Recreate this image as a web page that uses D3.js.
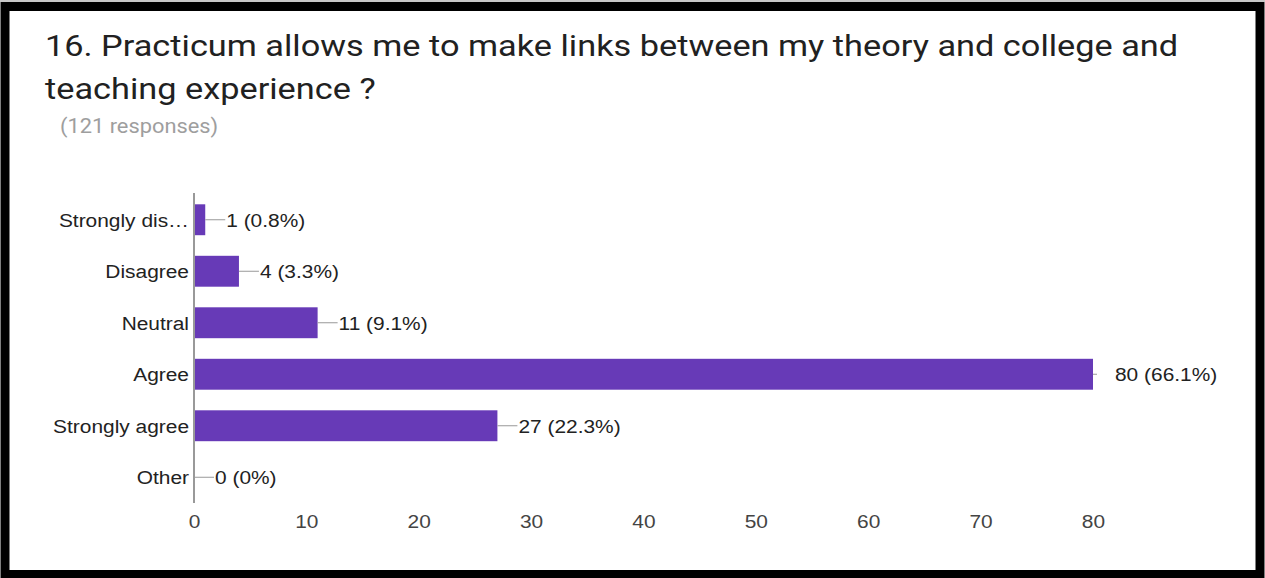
<!DOCTYPE html>
<html>
<head>
<meta charset="utf-8">
<script src="https://cdn.jsdelivr.net/npm/d3@7"></script>
<style>
  html, body { margin: 0; padding: 0; background: #fff; }
  svg { display: block; }
</style>
</head>
<body>
<svg id="chart" width="1265" height="578"></svg>
<script>
// Survey answers and their counts
const categories = ["Strongly dis…", "Disagree", "Neutral", "Agree", "Strongly agree", "Other"];
const counts = [1, 4, 11, 80, 27, 0];
const percents = ["0.8%", "3.3%", "9.1%", "66.1%", "22.3%", "0%"];
const xTicks = [0, 10, 20, 30, 40, 50, 60, 70, 80];
const titleLines = ["16. Practicum allows me to make links between my theory and college and", "teaching experience ?"];
const subtitle = "(121 responses)";

const svg = d3.select("#chart");
const W = 1265, H = 578;
const font = "'Liberation Sans', Arial, sans-serif";
const stretch = 1.1;

// Text helper: places a horizontally widened label at (x, y)
function label(parent, x, y, txt, opts) {
  return parent.append("text")
    .attr("transform", `translate(${x},${y}) scale(${opts.sx || stretch},1)`)
    .attr("text-anchor", opts.anchor || "start")
    .attr("dy", opts.dy || null)
    .attr("font-family", opts.family || font)
    .attr("font-size", opts.size)
    .attr("fill", opts.fill)
    .text(txt);
}

// Frame
svg.append("rect").attr("x", 0).attr("y", 0).attr("width", W).attr("height", 2).attr("fill", "#c8c8c8");
svg.append("rect").attr("x", 5).attr("y", 6.5).attr("width", W - 10).attr("height", H - 10)
  .attr("fill", "#fff").attr("stroke", "#000").attr("stroke-width", 9);

// Title
titleLines.forEach((t, i) => {
  label(svg, 45, 56 + i * 43, t, { size: 30, fill: "#212121", family: "Roboto, sans-serif", sx: 1.144 });
});
label(svg, 60, 133, subtitle, { size: 19.5, fill: "#9e9e9e", family: "Roboto, sans-serif", sx: 1.12 });

// Scales
const x = d3.scaleLinear().domain([0, 80]).range([194, 1093]);
const y = d3.scaleBand().domain(categories).range([194, 503]).paddingInner(0.4).paddingOuter(0.2);

// Bars
svg.selectAll("rect.bar").data(categories).join("rect")
  .attr("class", "bar")
  .attr("x", x(0))
  .attr("y", d => y(d))
  .attr("width", (d, i) => x(counts[i]) - x(0))
  .attr("height", y.bandwidth())
  .attr("fill", "#673ab7");

// Leader stems and value labels
const stem = 20;
categories.forEach((c, i) => {
  const xe = x(counts[i]);
  const yc = y(c) + y.bandwidth() / 2;
  const wide = counts[i] === d3.max(counts);
  svg.append("line")
    .attr("x1", xe).attr("x2", xe + (wide ? 4 : stem)).attr("y1", yc).attr("y2", yc)
    .attr("stroke", "#999").attr("stroke-width", 1);
  label(svg, wide ? xe + 22 : xe + stem + 1, yc, `${counts[i]} (${percents[i]})`,
    { size: 19, fill: "#222", dy: "0.36em" });
});

// Category labels
categories.forEach(c => {
  label(svg, 189, y(c) + y.bandwidth() / 2, c, { size: 19, fill: "#222", dy: "0.36em", anchor: "end" });
});

// Value axis
const xAxis = d3.axisBottom(x).tickValues(xTicks).tickSize(0).tickPadding(0);
const gx = svg.append("g").attr("transform", "translate(0,521)").call(xAxis);
gx.select(".domain").remove();
gx.selectAll(".tick text")
  .attr("y", 0).attr("dy", "0.36em")
  .attr("transform", `scale(${stretch},1)`)
  .attr("font-family", font).attr("font-size", 19).attr("fill", "#444");

// Baseline
svg.append("line").attr("x1", x(0)).attr("x2", x(0)).attr("y1", 193).attr("y2", 503)
  .attr("stroke", "#999").attr("stroke-width", 2);
</script>
</body>
</html>
